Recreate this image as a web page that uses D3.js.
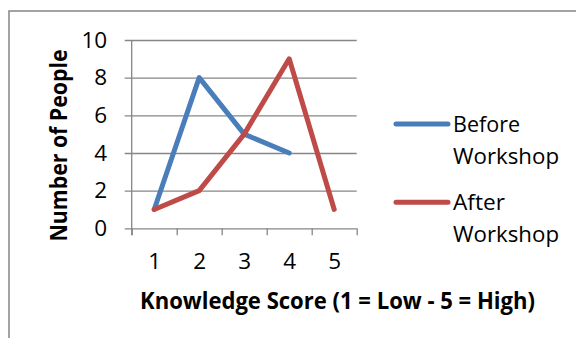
<!DOCTYPE html>
<html>
<head>
<meta charset="utf-8">
<script src="https://cdn.jsdelivr.net/npm/d3@7"></script>
<style>
  html, body { margin: 0; padding: 0; background: #fff; }
  svg { display: block; }
  text { font-family: "Open Sans", "Noto Sans", sans-serif; fill: #000; }
</style>
</head>
<body>
<script>
// Knowledge score distributions before and after the workshop
const categories = [1, 2, 3, 4, 5];
const beforeValues = [1, 8, 5, 4, null];
const afterValues = [1, 2, 5, 9, 1];
const yTicks = [0, 2, 4, 6, 8, 10];
const seriesNames = ["Before Workshop", "After Workshop"];
const xTitle = "Knowledge Score (1 = Low - 5 = High)";
const yTitle = "Number of People";

const W = 576, H = 338;
const plot = { left: 131.7, right: 356.7, top: 40, bottom: 228.3 };
const tickLen = 7;
const gridColor = "#868686";
const colors = ["#4a7ebb", "#be4b48"];
const seriesWidth = 5;

const svg = d3.select("body").append("svg").attr("width", W).attr("height", H);

// chart area frame (runs off the right and bottom edges)
svg.append("rect")
  .attr("x", 9).attr("y", 11).attr("width", W + 20).attr("height", H + 20)
  .attr("fill", "#fff").attr("stroke", "#8c8c8c").attr("stroke-width", 1.6);

// category boundaries on a linear scale; points sit in the middle of each band
const x = d3.scaleLinear()
  .domain([categories[0] - 0.5, categories[categories.length - 1] + 0.5])
  .range([plot.left, plot.right]);
const y = d3.scaleLinear().domain([0, 10]).range([plot.bottom, plot.top]);

// horizontal gridlines, starting at the left edge of the y tick marks
svg.append("g")
  .attr("transform", `translate(${plot.left - tickLen},0)`)
  .call(d3.axisRight(y).tickValues(yTicks).tickSize(plot.right - plot.left + tickLen).tickFormat(""))
  .call(g => g.select(".domain").remove())
  .call(g => g.selectAll("line").attr("stroke", gridColor).attr("stroke-width", 1.3));

// y axis labels
svg.append("g")
  .attr("transform", `translate(${plot.left},0)`)
  .call(d3.axisLeft(y).tickValues(yTicks).tickSize(0).tickPadding(24.5))
  .call(g => g.select(".domain").remove())
  .call(g => g.selectAll("text").attr("font-size", 22.5).attr("font-family", "Open Sans"));

// x axis tick marks at the band boundaries
const bounds = d3.range(categories.length + 1).map(i => categories[0] - 0.5 + i);
svg.append("g")
  .attr("transform", `translate(0,${plot.bottom})`)
  .call(d3.axisBottom(x).tickValues(bounds).tickSize(tickLen).tickFormat(""))
  .call(g => g.select(".domain").remove())
  .call(g => g.selectAll("line").attr("stroke", gridColor).attr("stroke-width", 1.3));

// x axis labels
svg.append("g")
  .attr("transform", `translate(0,${plot.bottom})`)
  .call(d3.axisBottom(x).tickValues(categories).tickSize(0).tickPadding(24.5).tickFormat(d3.format("d")))
  .call(g => g.select(".domain").remove())
  .call(g => g.selectAll("text").attr("font-size", 22.5).attr("font-family", "Open Sans"));

// vertical axis line
svg.append("line")
  .attr("x1", plot.left).attr("x2", plot.left)
  .attr("y1", y(10)).attr("y2", plot.bottom + tickLen)
  .attr("stroke", gridColor).attr("stroke-width", 1.3);

// series lines
const line = d3.line()
  .defined(d => d.v != null)
  .x(d => x(d.c))
  .y(d => y(d.v));

[beforeValues, afterValues].forEach((vals, i) => {
  svg.append("path")
    .datum(categories.map((c, j) => ({ c, v: vals[j] })))
    .attr("d", line)
    .attr("fill", "none")
    .attr("stroke", colors[i])
    .attr("stroke-width", seriesWidth)
    .attr("stroke-linejoin", "round")
    .attr("stroke-linecap", "round");
});

// axis titles
svg.append("text")
  .attr("x", 337.5).attr("y", 308.5)
  .attr("text-anchor", "middle")
  .attr("font-size", 22.5).attr("font-weight", "bold")
  .attr("textLength", 395).attr("lengthAdjust", "spacingAndGlyphs")
  .text(xTitle);

svg.append("text")
  .attr("transform", `translate(67,145.5) rotate(-90)`)
  .attr("text-anchor", "middle")
  .attr("font-size", 22.5).attr("font-weight", "bold")
  .attr("textLength", 192).attr("lengthAdjust", "spacingAndGlyphs")
  .text(yTitle);

// legend
const legendRows = [124, 202.3];
const legendWidths = [[67, 106], [52, 106]];
seriesNames.forEach((name, i) => {
  const g = svg.append("g").attr("transform", `translate(0,${legendRows[i]})`);
  g.append("line")
    .attr("x1", 396).attr("x2", 448).attr("y1", 0).attr("y2", 0)
    .attr("stroke", colors[i]).attr("stroke-width", seriesWidth).attr("stroke-linecap", "round");
  const words = name.split(" ");
  words.forEach((w, k) => {
    g.append("text")
      .attr("x", 453).attr("y", 8 + k * 31.7)
      .attr("font-size", 22.5)
      .attr("textLength", legendWidths[i][k]).attr("lengthAdjust", "spacingAndGlyphs")
      .text(w);
  });
});
</script>
</body>
</html>
